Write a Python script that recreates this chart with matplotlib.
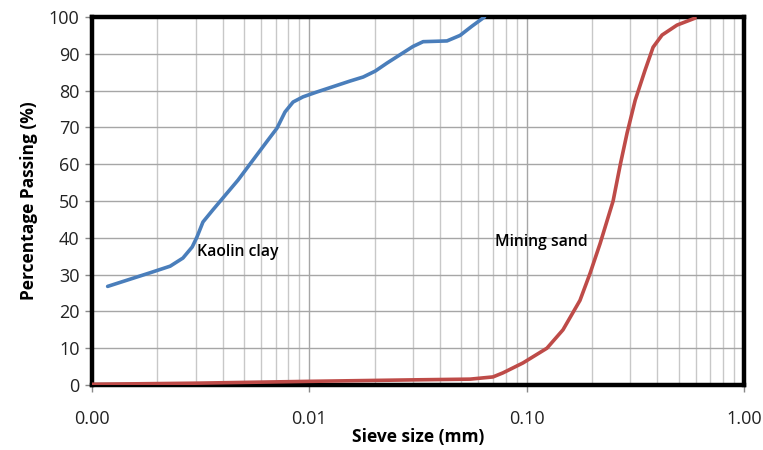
import numpy as np
import matplotlib.pyplot as plt

# гранулометрический состав: размер сита (мм) и процент прохода
kaolin_size = [0.00118, 0.00185, 0.00229, 0.00262, 0.00289, 0.00304, 0.00324,
               0.0036, 0.0040, 0.0047, 0.0059, 0.00646, 0.0071, 0.00773,
               0.00842, 0.00935, 0.0108, 0.0154, 0.0177, 0.0201, 0.0228,
               0.0300, 0.0334, 0.0430, 0.0494, 0.0560, 0.0640]
kaolin_pass = [26.8, 30.5, 32.3, 34.5, 37.5, 40.2, 44.3,
               47.6, 50.8, 55.7, 63.5, 66.6, 69.8, 74.2,
               76.9, 78.3, 79.6, 82.6, 83.7, 85.3, 87.5,
               92.0, 93.3, 93.5, 95.0, 97.5, 100.0]

sand_size = [0.001, 0.003, 0.01, 0.03, 0.055, 0.070, 0.0778, 0.0962, 0.124,
             0.147, 0.176, 0.196, 0.218, 0.250, 0.270, 0.290, 0.316, 0.351,
             0.382, 0.420, 0.492, 0.596]
sand_pass = [0.2, 0.5, 1.0, 1.4, 1.6, 2.2, 3.3, 6.0, 10.0,
             15.0, 23.0, 30.4, 38.5, 50.0, 60.0, 68.5, 77.4, 85.6,
             91.8, 95.1, 97.8, 99.7]

x_ticks = [0.001, 0.01, 0.1, 1.0]
x_tick_labels = ['0.00', '0.01', '0.10', '1.00']

plt.rcParams['font.family'] = ['Open Sans', 'DejaVu Sans']

fig = plt.figure(figsize=(7.63, 4.5), dpi=100)
ax = fig.add_axes([0.1206, 0.1444, 0.8544, 0.8178])

ax.plot(kaolin_size, kaolin_pass, color='#4a7ebb', linewidth=2.6,
        solid_capstyle='round', solid_joinstyle='round', zorder=3)
ax.plot(sand_size, sand_pass, color='#be4b48', linewidth=2.6,
        solid_capstyle='round', solid_joinstyle='round', zorder=3)

ax.set_xscale('log')
ax.set_xlim(0.001, 1.0)
ax.set_ylim(0, 100)
ax.set_xticks(x_ticks)
ax.set_xticklabels(x_tick_labels)
ax.set_yticks(np.arange(0, 101, 10))

ax.grid(True, which='major', color='#a6a6a6', linewidth=1.0)
ax.grid(True, which='minor', axis='x', color='#c8c8c8', linewidth=1.0)
ax.tick_params(axis='x', which='minor', length=0)
ax.tick_params(axis='x', which='major', length=5, width=1, color='#888888',
               labelsize=13, pad=13, labelcolor='#222222')
ax.tick_params(axis='y', length=5, width=1, color='#888888',
               labelsize=13, pad=4, labelcolor='#222222')

for s in ax.spines.values():
    s.set_linewidth(3.2)
    s.set_color('black')

ax.text(0.00304, 36.1, 'Kaolin clay', fontsize=11.3, fontweight='semibold',
        va='center', ha='left', zorder=4)
ax.text(0.0716, 38.9, 'Mining sand', fontsize=11.3, fontweight='semibold',
        va='center', ha='left', zorder=4)

ax.set_xlabel('Sieve size (mm)', fontsize=12.5, fontweight='bold', labelpad=0)
ax.set_ylabel('Percentage Passing (%)', fontsize=12.5, fontweight='bold', labelpad=8)

fig.savefig('out.png', dpi=100)
